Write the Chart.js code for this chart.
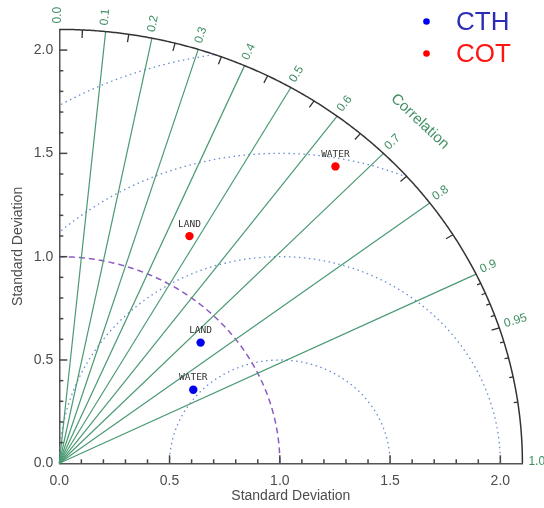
<!DOCTYPE html>
<html><head><meta charset="utf-8">
<script src="https://cdn.jsdelivr.net/npm/chart.js@4/dist/chart.umd.min.js"></script>
<style>html,body{margin:0;padding:0;background:#fff;overflow:hidden}canvas{display:block}</style>
</head><body>
<canvas id="c" width="544" height="508"></canvas>
<script>
// ---- data ----
const categories = ['LAND', 'WATER'];
const seriesNames = ['CTH', 'COT'];
const cthStd  = [0.867, 0.704];
const cthCorr = [0.739, 0.863];
const cotStd  = [1.248, 1.906];
const cotCorr = [0.473, 0.657];
const stdTicks = [0.0, 0.5, 1.0, 1.5, 2.0];
const stdMax = 2.1;
const refStd = 1.0;
const corrLines = [0.1, 0.2, 0.3, 0.4, 0.5, 0.6, 0.7, 0.8, 0.9];
const corrLabelValues = [0.0, 0.1, 0.2, 0.3, 0.4, 0.5, 0.6, 0.7, 0.8, 0.9, 0.95, 1.0];
const corrLabelText   = ['0.0','0.1','0.2','0.3','0.4','0.5','0.6','0.7','0.8','0.9','0.95','1.0'];
const corrTicksMajor = [0.05, 0.15, 0.25, 0.35, 0.45, 0.55, 0.65, 0.75, 0.85, 0.95];
const corrTicksMinor = [0.91, 0.92, 0.93, 0.94, 0.96, 0.97, 0.98, 0.99];
const rmsRadii = [0.5, 1.0, 1.5, 2.0];
const corrTitle = 'Correlation';
const axisTitle = 'Standard Deviation';

function toXY(std, corr, i) {
  return { x: std * corr, y: std * Math.sqrt(1 - corr * corr), label: categories[i] };
}

const FONT = "'Liberation Sans', Arial, sans-serif";
const GREEN = '#3f8f63';
const LINEGREEN = '#4a9a72';
const GREY = '#4c4c4c';

const taylor = {
  id: 'taylor',
  beforeDatasetsDraw(chart) {
    const { ctx, scales: { x: xs, y: ys } } = chart;
    const P = (a, b) => [xs.getPixelForValue(a), ys.getPixelForValue(b)];
    ctx.save();
    // RMS circles around reference point
    ctx.strokeStyle = 'rgba(95,135,205,0.95)';
    ctx.lineWidth = 1.3;
    ctx.setLineDash([1.5, 3.5]);
    rmsRadii.forEach(R => {
      ctx.beginPath();
      let pen = false;
      for (let i = 0; i <= 900; i++) {
        const f = Math.PI * i / 900;
        const a = refStd + R * Math.cos(f), b = R * Math.sin(f);
        const ok = a >= 0 && a * a + b * b <= stdMax * stdMax;
        if (ok) { const [X, Y] = P(a, b); pen ? ctx.lineTo(X, Y) : ctx.moveTo(X, Y); pen = true; }
        else pen = false;
      }
      ctx.stroke();
    });
    // reference std (dashed purple)
    ctx.strokeStyle = '#8a5cc4';
    ctx.lineWidth = 1.5;
    ctx.setLineDash([6, 4]);
    ctx.beginPath();
    for (let i = 0; i <= 300; i++) {
      const f = Math.PI / 2 * i / 300;
      const [X, Y] = P(refStd * Math.cos(f), refStd * Math.sin(f));
      i ? ctx.lineTo(X, Y) : ctx.moveTo(X, Y);
    }
    ctx.stroke();
    ctx.setLineDash([]);
    // correlation lines
    ctx.strokeStyle = LINEGREEN;
    ctx.lineWidth = 1.2;
    corrLines.forEach(c => {
      const s = Math.sqrt(1 - c * c);
      const [X0, Y0] = P(0, 0), [X1, Y1] = P(stdMax * c, stdMax * s);
      ctx.beginPath(); ctx.moveTo(X0, Y0); ctx.lineTo(X1, Y1); ctx.stroke();
    });
    // outer arc
    ctx.strokeStyle = '#333';
    ctx.lineWidth = 1.5;
    ctx.beginPath();
    for (let i = 0; i <= 400; i++) {
      const f = Math.PI / 2 * i / 400;
      const [X, Y] = P(stdMax * Math.cos(f), stdMax * Math.sin(f));
      i ? ctx.lineTo(X, Y) : ctx.moveTo(X, Y);
    }
    ctx.stroke();
    // arc ticks
    const arcTick = (c, len) => {
      const s = Math.sqrt(1 - c * c);
      const [X1, Y1] = P(stdMax * c, stdMax * s);
      const [X0, Y0] = P(0, 0);
      const dx = X0 - X1, dy = Y0 - Y1, L = Math.hypot(dx, dy);
      ctx.beginPath(); ctx.moveTo(X1, Y1); ctx.lineTo(X1 + dx / L * len, Y1 + dy / L * len); ctx.stroke();
    };
    ctx.lineWidth = 1.3;
    corrTicksMajor.forEach(c => arcTick(c, 8));
    corrTicksMinor.forEach(c => arcTick(c, 4));
    // inward axis ticks
    ctx.strokeStyle = '#444';
    ctx.lineWidth = 1.5;
    for (let k = 1; k <= 20; k++) {
      const v = k / 10, len = (k % 5 === 0) ? 8 : 4;
      const X = xs.getPixelForValue(v), Yb = ys.getPixelForValue(0);
      ctx.beginPath(); ctx.moveTo(X, Yb); ctx.lineTo(X, Yb - len); ctx.stroke();
      const Y = ys.getPixelForValue(v), Xl = xs.getPixelForValue(0);
      ctx.beginPath(); ctx.moveTo(Xl, Y); ctx.lineTo(Xl + len, Y); ctx.stroke();
    }
    ctx.restore();
  },
  afterDatasetsDraw(chart) {
    const { ctx, scales: { x: xs, y: ys } } = chart;
    const P = (a, b) => [xs.getPixelForValue(a), ys.getPixelForValue(b)];
    ctx.save();
    // correlation labels
    ctx.fillStyle = GREEN;
    ctx.font = '12px ' + FONT;
    ctx.textAlign = 'left';
    ctx.textBaseline = 'middle';
    corrLabelValues.forEach((c, i) => {
      const s = Math.sqrt(Math.max(0, 1 - c * c));
      const [X1, Y1] = P(stdMax * c, stdMax * s);
      const [X2, Y2] = P((stdMax + 0.1) * c, (stdMax + 0.1) * s);
      const ang = Math.atan2(Y2 - Y1, X2 - X1);
      const ux = Math.cos(ang), uy = Math.sin(ang);
      ctx.save();
      ctx.translate(X1 + ux * 6, Y1 + uy * 6);
      ctx.rotate(ang);
      ctx.fillText(corrLabelText[i], 0, -2);
      ctx.restore();
    });
    // "Correlation" title along the arc
    {
      const c = 0.703, r = 2.326, s = Math.sqrt(1 - c * c);
      const [X, Y] = P(r * c, r * s);
      const [Xa, Ya] = P(r * (c + 0.01), r * Math.sqrt(1 - (c + 0.01) ** 2));
      const ang = Math.atan2(Ya - Y, Xa - X);
      ctx.save();
      ctx.translate(X, Y);
      ctx.rotate(ang);
      ctx.textAlign = 'center';
      ctx.font = '15px ' + FONT;
      ctx.fillText(corrTitle, 0, 0);
      ctx.restore();
    }
    // point labels
    ctx.fillStyle = '#333';
    ctx.font = "9.5px 'DejaVu Sans Mono', monospace";
    ctx.textAlign = 'center';
    ctx.textBaseline = 'middle';
    chart.data.datasets.forEach((ds, di) => {
      const meta = chart.getDatasetMeta(di);
      meta.data.forEach((el, i) => {
        ctx.fillText(ds.data[i].label, el.x, el.y - 12);
      });
    });
    // legend
    chart.data.datasets.forEach((ds, di) => {
      const y = 21.5 + di * 32;
      ctx.fillStyle = ds.backgroundColor;
      ctx.beginPath(); ctx.arc(426.5, y, 3.3, 0, Math.PI * 2); ctx.fill();
      ctx.fillStyle = ds.legendTextColor;
      ctx.font = '26px ' + FONT;
      ctx.textAlign = 'left';
      ctx.textBaseline = 'middle';
      ctx.fillText(ds.label, 456, y + 1);
    });
    ctx.restore();
  }
};

new Chart(document.getElementById('c'), {
  type: 'scatter',
  data: {
    datasets: [
      { label: seriesNames[0], data: cthStd.map((s, i) => toXY(s, cthCorr[i], i)),
        backgroundColor: '#0000f0', borderColor: '#0000f0', legendTextColor: '#2c2cb8',
        pointRadius: 4.2, borderWidth: 0, clip: false },
      { label: seriesNames[1], data: cotStd.map((s, i) => toXY(s, cotCorr[i], i)),
        backgroundColor: '#ff0000', borderColor: '#ff0000', legendTextColor: '#ff1414',
        pointRadius: 4.2, borderWidth: 0, clip: false }
    ]
  },
  options: {
    responsive: false,
    devicePixelRatio: 1,
    animation: false,
    events: [],
    layout: { padding: { top: 29.4, right: 21.6, left: 0, bottom: 0 } },
    plugins: { legend: { display: false }, tooltip: { enabled: false }, title: { display: false } },
    scales: {
      x: {
        type: 'linear', min: 0, max: stdMax,
        afterBuildTicks: s => { s.ticks = stdTicks.map(v => ({ value: v })); },
        afterFit: s => { s.height = 44.7; },
        grid: { display: false, drawTicks: false },
        border: { display: true, color: '#555', width: 1.5 },
        ticks: { padding: 9, color: GREY, font: { family: FONT, size: 14 }, maxRotation: 0, autoSkip: false,
                 callback: v => Number(v).toFixed(1) },
        title: { display: true, text: axisTitle, color: GREY, font: { family: FONT, size: 14 }, padding: { top: 0, bottom: 3 } }
      },
      y: {
        type: 'linear', min: 0, max: stdMax,
        afterBuildTicks: s => { s.ticks = stdTicks.map(v => ({ value: v })); },
        afterFit: s => { s.width = 59.3; },
        grid: { display: false, drawTicks: false },
        border: { display: true, color: '#555', width: 1.5 },
        ticks: { padding: 6, color: GREY, font: { family: FONT, size: 14 }, autoSkip: false,
                 callback: v => Number(v).toFixed(1) },
        title: { display: true, text: axisTitle, color: GREY, font: { family: FONT, size: 14 }, padding: { top: 10, bottom: 0 } }
      }
    }
  },
  plugins: [taylor]
});
</script>
</body></html>
